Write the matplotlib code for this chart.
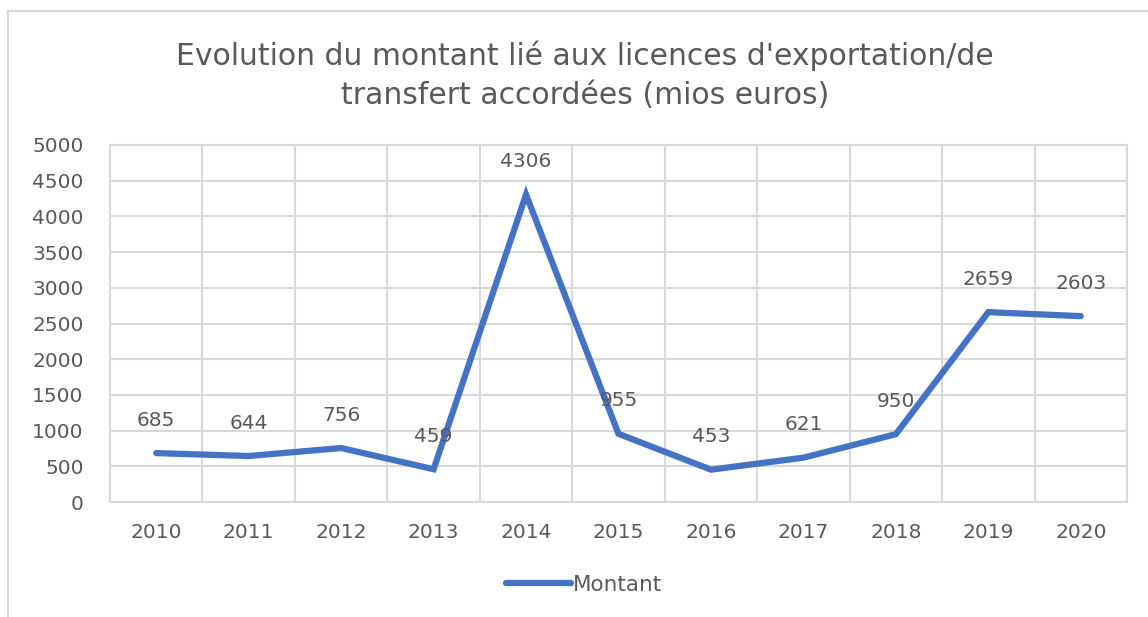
import matplotlib.pyplot as plt
from matplotlib.patches import Rectangle

years = ["2010", "2011", "2012", "2013", "2014", "2015", "2016", "2017", "2018", "2019", "2020"]
montant = [685, 644, 756, 459, 4306, 955, 453, 621, 950, 2659, 2603]
yticks = [0, 500, 1000, 1500, 2000, 2500, 3000, 3500, 4000, 4500, 5000]

TXT = "#595959"
GRID = "#d9d9d9"
BLUE = "#4472C4"

plt.rcParams["font.family"] = ["DejaVu Sans"]

fig = plt.figure(figsize=(11.48, 6.17), dpi=100)
ax = fig.add_axes([110 / 1148, 1 - 502 / 617, (1127 - 110) / 1148, (502 - 145) / 617])

x = list(range(len(years)))
ax.plot(x, montant, color=BLUE, linewidth=4.5, solid_capstyle="round",
        solid_joinstyle="miter", label="Montant", zorder=3)

for xi, v in zip(x, montant):
    ax.annotate(str(v), (xi, v), xytext=(0, 33), textcoords="offset pixels",
                ha="center", va="center", fontsize=14.5, color=TXT, zorder=4)

ax.set_xlim(-0.5, len(years) - 0.5)
ax.set_ylim(0, 5000)
ax.set_yticks(yticks)
ax.set_xticks(x)
ax.set_xticklabels(years)
ax.set_xticks([i + 0.5 for i in range(-1, len(years))], minor=True)
ax.grid(True, which="major", axis="y", color=GRID, linewidth=1.5)
ax.grid(True, which="minor", axis="x", color=GRID, linewidth=1.5)
ax.tick_params(which="both", length=0)
ax.tick_params(axis="y", labelsize=14.5, labelcolor=TXT, pad=19)
ax.tick_params(axis="x", labelsize=14.5, labelcolor=TXT, pad=15)
for s in ax.spines.values():
    s.set_color(GRID)
    s.set_linewidth(1.5)

fig.text(585 / 1148, 1 - 75 / 617,
         "Evolution du montant lié aux licences d'exportation/de\ntransfert accordées (mios euros)",
         ha="center", va="center", fontsize=21.5, color=TXT, linespacing=1.45)

leg = fig.legend(loc="center", bbox_to_anchor=(584 / 1148, 1 - 585 / 617), frameon=False,
                 fontsize=15.5, handlelength=3.0, handletextpad=0.1)
for t in leg.get_texts():
    t.set_color(TXT)

# chart frame
fig.patches.append(Rectangle((8 / 1148, -0.01), 1.1, 1 - 11 / 617 + 0.01, transform=fig.transFigure,
                             fill=False, edgecolor=GRID, linewidth=1.5))

fig.savefig("out.png", dpi=100)
